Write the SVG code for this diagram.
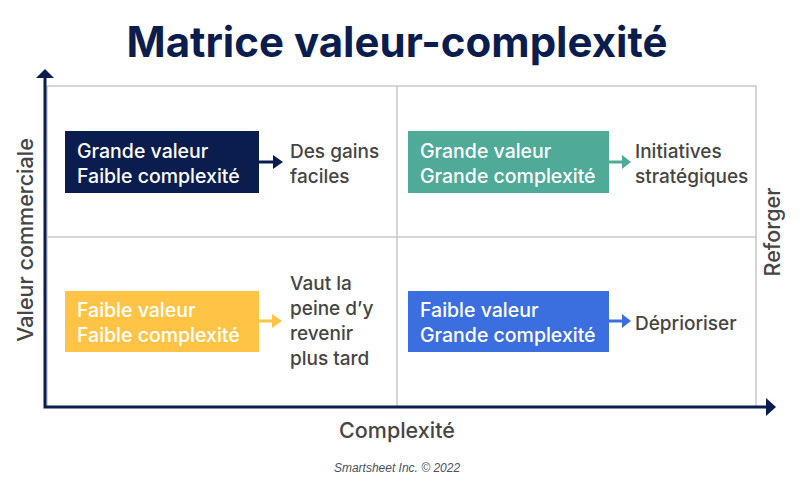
<svg xmlns="http://www.w3.org/2000/svg" width="800" height="485" viewBox="0 0 800 485">
<style>
.grid{fill:none;stroke:#c8c8c8;stroke-width:1.5}
.axis{stroke:#0b1d4e;stroke-width:3;fill:none}
.box-t{font-family:Inter,"Noto Sans",sans-serif;font-size:19.5px;font-weight:500;fill:#fff}
.lbl{font-family:Inter,"Noto Sans",sans-serif;font-size:19px;font-weight:500;fill:#454545}
.ax{font-family:Inter,"Noto Sans",sans-serif;font-size:21.5px;font-weight:500;fill:#454545}
.title{font-family:Inter,"Noto Sans",sans-serif;font-size:42px;font-weight:700;fill:#0b1d4e}
.foot{font-family:"Liberation Sans",Arial,sans-serif;font-size:12px;font-style:italic;fill:#4a5060}
</style>
<rect width="800" height="485" fill="#fff"/>
<text class="title" x="397" y="57" text-anchor="middle">Matrice valeur-complexité</text>
<g id="grid">
<rect class="grid" x="47" y="86" width="709" height="321"/>
<line class="grid" x1="47" y1="237" x2="756" y2="237"/>
<line class="grid" x1="397" y1="86" x2="397" y2="407"/>
</g>
<g id="axes">
<path class="axis" d="M45 78 V407 H766"/>
<polygon points="45,69 54,78 36,78" fill="#0b1d4e"/>
<polygon points="776,407 766,398 766,416" fill="#0b1d4e"/>
<text class="ax" transform="translate(33,240) rotate(-90)" text-anchor="middle" font-size="22.5">Valeur commerciale</text>
<text class="ax" transform="translate(780,232) rotate(-90)" text-anchor="middle">Reforger</text>
<text class="ax" x="397" y="438" text-anchor="middle">Complexité</text>
</g>
<g id="connectors">
<path d="M259 162 H273" stroke="#0b1d4e" stroke-width="3"/>
<polygon points="283,162 273,155 273,169" fill="#0b1d4e"/>
<path d="M609 162 H622" stroke="#4faa98" stroke-width="3"/>
<polygon points="631,162 622,155 622,169" fill="#4faa98"/>
<path d="M259 321 H272" stroke="#ffc445" stroke-width="3"/>
<polygon points="282,321 272,314 272,328" fill="#ffc445"/>
<path d="M609 321 H622" stroke="#3b6fe0" stroke-width="3"/>
<polygon points="631,321 622,314 622,328" fill="#3b6fe0"/>
</g>
<g id="q1">
<rect x="65" y="131" width="194" height="62" fill="#0b1d4e"/>
<text class="box-t" x="77" y="158">Grande valeur</text>
<text class="box-t" x="77" y="183">Faible complexité</text>
<text class="lbl" x="290" y="158">Des gains</text>
<text class="lbl" x="290" y="183">faciles</text>
</g>
<g id="q2">
<rect x="408" y="131" width="201" height="62" fill="#4faa98"/>
<text class="box-t" x="420" y="158">Grande valeur</text>
<text class="box-t" x="420" y="183">Grande complexité</text>
<text class="lbl" x="635" y="158">Initiatives</text>
<text class="lbl" x="635" y="183">stratégiques</text>
</g>
<g id="q3">
<rect x="65" y="291" width="194" height="61" fill="#ffc445"/>
<text class="box-t" x="77" y="317">Faible valeur</text>
<text class="box-t" x="77" y="342">Faible complexité</text>
<text class="lbl" x="290" y="290">Vaut la</text>
<text class="lbl" x="290" y="315">peine d’y</text>
<text class="lbl" x="290" y="340">revenir</text>
<text class="lbl" x="290" y="365">plus tard</text>
</g>
<g id="q4">
<rect x="408" y="291" width="201" height="61" fill="#3b6fe0"/>
<text class="box-t" x="420" y="317">Faible valeur</text>
<text class="box-t" x="420" y="342">Grande complexité</text>
<text class="lbl" x="635" y="330">Déprioriser</text>
</g>
<text class="foot" x="397" y="472" text-anchor="middle">Smartsheet Inc. © 2022</text>
</svg>
